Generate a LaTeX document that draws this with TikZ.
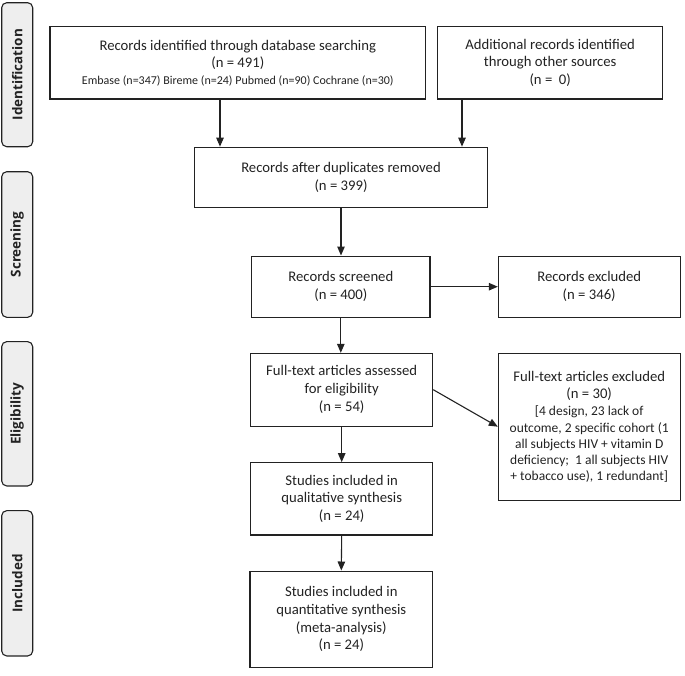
\documentclass[tikz,border=0pt]{standalone}
\usepackage{fontspec}
\setmainfont{Carlito}
\newfontfamily\tabfont{Open Sans}
\usetikzlibrary{arrows.meta}
\definecolor{ink}{HTML}{222222}
\definecolor{tabfill}{HTML}{EEEEEE}
\newcommand\hdrsize{\fontsize{14.7pt}{17.8pt}\selectfont}
\newcommand\detsize{\fontsize{13.5pt}{16.2pt}\selectfont}
\tikzset{
  box/.style={draw=ink, line width=1.1pt, align=center, inner sep=0pt, text=ink,
    font=\hdrsize},
  tabbox/.style={draw=ink, line width=1.1pt, fill=tabfill, rounded corners=5pt,
    rotate=90, minimum height=31pt, inner sep=0pt, text=ink,
    font=\tabfont\bfseries\fontsize{13.5pt}{16pt}\selectfont},
  arr/.style={draw=ink, line width=1.1pt, -{Triangle[length=9pt,width=7.5pt]}}
}
\begin{document}
\begin{tikzpicture}[x=1pt,y=-1pt]
\useasboundingbox (0,0) rectangle (685,675);
% phase tabs
\node[tabbox, minimum width=144pt]   (t1) at (17.2,74.7)  {Identification};
\node[tabbox, minimum width=145.6pt] (t2) at (17.2,244.5) {Screening};
\node[tabbox, minimum width=144.3pt] (t3) at (17.2,413.8) {Eligibility};
\node[tabbox, minimum width=145.3pt] (t4) at (17.2,583.3) {Included};
% boxes
\node[box, minimum width=375.7pt, minimum height=72.3pt] (b1) at (237.8,62.8)
  {Records identified through database searching\\(n = 491)\\[-1.5pt]
   {\fontsize{12pt}{14pt}\selectfont Embase (n=347) Bireme (n=24) Pubmed (n=90) Cochrane (n=30)}};
\node[box, minimum width=225pt, minimum height=72.3pt] (b2) at (550.2,62.8)
  {Additional records identified\\through other sources\\(n =\ \ 0)};
\node[box, minimum width=293.4pt, minimum height=60.6pt] (b3) at (341,177.5)
  {Records after duplicates removed\\(n = 399)};
\node[box, minimum width=178.3pt, minimum height=61.3pt] (b4) at (340.8,286.7)
  {Records screened\\(n = 400)};
\node[box, minimum width=181.7pt, minimum height=61.3pt] (b5) at (589.2,286.7)
  {Records excluded\\(n = 346)};
\node[box, minimum width=182pt, minimum height=72.7pt] (b6) at (341.7,389.7)
  {Full-text articles assessed\\for eligibility\\(n = 54)};
\node[box, font=\detsize, minimum width=181.7pt, minimum height=146.7pt] (b8) at (589.2,426.7)
  {\hdrsize Full-text articles excluded\\[1.6pt]
   \hdrsize (n = 30)\\[0.8pt]
   {[}4 design, 23 lack of\\
   outcome, 2 specific cohort (1\\
   all subjects HIV + vitamin D\\
   deficiency;\ \ 1 all subjects HIV\\
   + tobacco use), 1 redundant{]}};
\node[box, minimum width=182pt, minimum height=72.3pt] (b7) at (341.7,498.8)
  {Studies included in\\qualitative synthesis\\(n = 24)};
\node[box, minimum width=182.7pt, minimum height=96.3pt] (b9) at (341.3,619.2)
  {Studies included in\\quantitative synthesis\\(meta-analysis)\\(n = 24)};
% connectors
\coordinate (x1) at (220,0);
\coordinate (x2) at (462,0);
\draw[arr] (b1.south -| x1) -- (b3.north -| x1);
\draw[arr] (b2.south -| x2) -- (b3.north -| x2);
\draw[arr] (b3.south) -- (b3.south |- b4.north);
\draw[arr] (b4.east) -- (b5.west);
\draw[arr] (b4.south) -- (b4.south |- b6.north);
\draw[arr] (b6.east) -- (b8.west);
\draw[arr] (b6.south) -- (b7.north);
\draw[arr] (b7.south) -- (b9.north);
\end{tikzpicture}
\end{document}
